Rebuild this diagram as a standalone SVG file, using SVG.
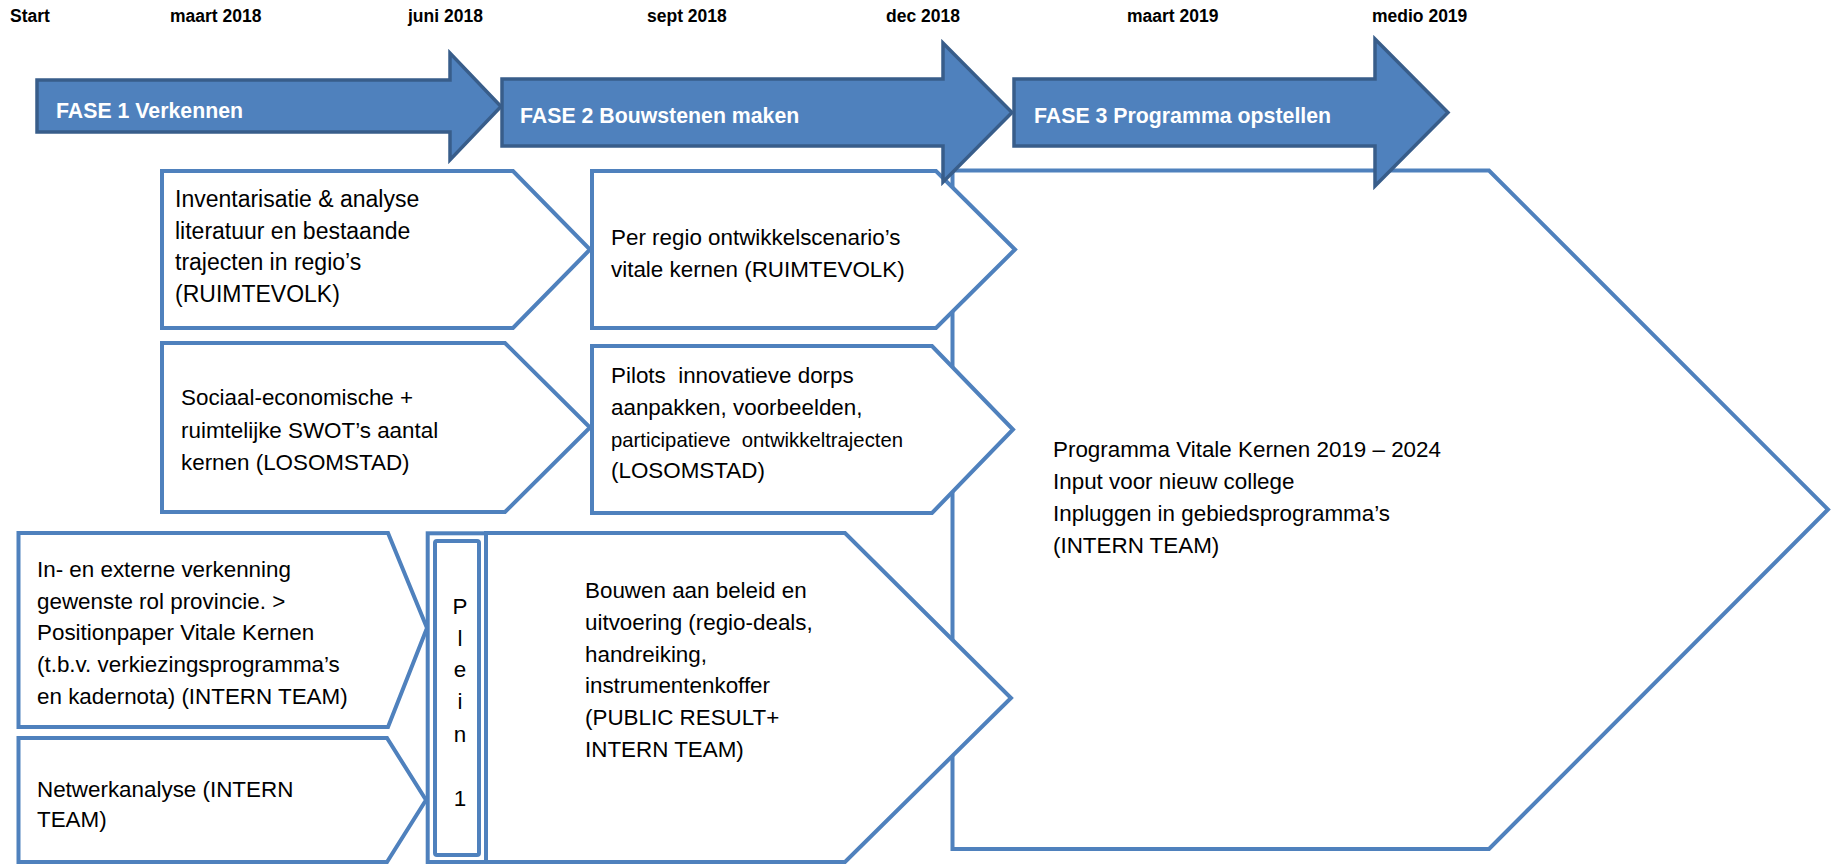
<svg xmlns="http://www.w3.org/2000/svg" width="1839" height="864" viewBox="0 0 1839 864">
<style>
.box{fill:#fff;stroke:#4F81BD;stroke-width:4;stroke-linejoin:miter}
.phase{fill:#4F81BD;stroke:#385D8A;stroke-width:3.5;stroke-linejoin:miter}
.ph{font-family:"Liberation Sans",Arial,sans-serif;font-weight:bold;font-size:21.3px;fill:#fff}
.lbl{font-family:"Liberation Sans",Arial,sans-serif;font-weight:bold;font-size:17.5px;fill:#000}
.t{font-family:"Liberation Sans",Arial,sans-serif;font-size:22.4px;fill:#000}
.a{font-size:23px}
.s{font-size:20.3px}
.pre{white-space:pre}
</style>
<rect width="1839" height="864" fill="#fff"/>
<g id="timeline">
<text class="lbl" x="10" y="22">Start</text>
<text class="lbl" x="170" y="22">maart 2018</text>
<text class="lbl" x="408" y="22">juni 2018</text>
<text class="lbl" x="647" y="22">sept 2018</text>
<text class="lbl" x="886" y="22">dec 2018</text>
<text class="lbl" x="1127" y="22">maart 2019</text>
<text class="lbl" x="1372" y="22">medio 2019</text>
</g>
<g id="programma">
<polygon class="box" points="952.5,170.5 1489,170.5 1828,509.5 1489,849 952.5,849"/>
<text class="t" x="1053" y="457">Programma Vitale Kernen 2019 – 2024</text>
<text class="t" x="1053" y="489">Input voor nieuw college</text>
<text class="t" x="1053" y="521">Inpluggen in gebiedsprogramma’s</text>
<text class="t" x="1053" y="553">(INTERN TEAM)</text>
</g>
<g id="inventarisatie">
<polygon class="box" points="162,171 513,171 590,249.5 513,328 162,328"/>
<text class="t a" x="175" y="207">Inventarisatie &amp; analyse</text>
<text class="t a" x="175" y="239">literatuur en bestaande</text>
<text class="t a" x="175" y="270">trajecten in regio’s</text>
<text class="t a" x="175" y="302">(RUIMTEVOLK)</text>
</g>
<g id="ontwikkelscenarios">
<polygon class="box" points="592,171 936,171 1015,249.5 936,328 592,328"/>
<text class="t" x="611" y="245">Per regio ontwikkelscenario’s</text>
<text class="t" x="611" y="277">vitale kernen (RUIMTEVOLK)</text>
</g>
<g id="swot">
<polygon class="box" points="162,343 505,343 590,427.5 505,512 162,512"/>
<text class="t" x="181" y="405">Sociaal-economische +</text>
<text class="t" x="181" y="438">ruimtelijke SWOT’s aantal</text>
<text class="t" x="181" y="470">kernen (LOSOMSTAD)</text>
</g>
<g id="pilots">
<polygon class="box" points="592,346 932,346 1013,429.5 932,513 592,513"/>
<text class="t pre" x="611" y="383">Pilots  innovatieve dorps</text>
<text class="t" x="611" y="415">aanpakken, voorbeelden,</text>
<text class="t s pre" x="611" y="447">participatieve  ontwikkeltrajecten</text>
<text class="t" x="611" y="478">(LOSOMSTAD)</text>
</g>
<g id="verkenning">
<polygon class="box" points="18.5,533 388,533 427,628 388,727 18.5,727"/>
<text class="t" x="37" y="577">In- en externe verkenning</text>
<text class="t" x="37" y="609">gewenste rol provincie. &gt;</text>
<text class="t" x="37" y="640">Positionpaper Vitale Kernen</text>
<text class="t" x="37" y="672">(t.b.v. verkiezingsprogramma’s</text>
<text class="t" x="37" y="704">en kadernota) (INTERN TEAM)</text>
</g>
<g id="netwerkanalyse">
<polygon class="box" points="18.5,738 387,738 426,800 387,862 18.5,862"/>
<text class="t" x="37" y="797">Netwerkanalyse (INTERN</text>
<text class="t" x="37" y="827">TEAM)</text>
</g>
<g id="bouwen">
<polygon class="box" points="486,533 845,533 1011,698 845,862 486,862"/>
<text class="t" x="585" y="598">Bouwen aan beleid en</text>
<text class="t" x="585" y="630">uitvoering (regio-deals,</text>
<text class="t" x="585" y="662">handreiking,</text>
<text class="t" x="585" y="693">instrumentenkoffer</text>
<text class="t" x="585" y="725">(PUBLIC RESULT+</text>
<text class="t" x="585" y="757">INTERN TEAM)</text>
</g>
<g id="plein">
<rect class="box" x="427.7" y="533.3" width="58.3" height="328.7"/>
<rect class="box" x="435" y="541" width="44" height="314" rx="2"/>
<g class="t" text-anchor="middle">
<text x="460" y="614">P</text>
<text x="460" y="646">l</text>
<text x="460" y="677">e</text>
<text x="460" y="709">i</text>
<text x="460" y="742">n</text>
<text x="460" y="806">1</text>
</g>
</g>
<g id="fase1">
<path class="phase" d="M37,80 H450 V53 L501,106.5 L450,160 V132 H37 Z"/>
<text class="ph" x="56" y="118">FASE 1 Verkennen</text>
</g>
<g id="fase2">
<path class="phase" d="M502,79 H943 V43 L1012,112.5 L943,182 V146 H502 Z"/>
<text class="ph" x="520" y="123">FASE 2 Bouwstenen maken</text>
</g>
<g id="fase3">
<path class="phase" d="M1014,79 H1375 V39 L1448,112.5 L1375,186 V146 H1014 Z"/>
<text class="ph" x="1034" y="123">FASE 3 Programma opstellen</text>
</g>
<g id="connectors"/>
</svg>
